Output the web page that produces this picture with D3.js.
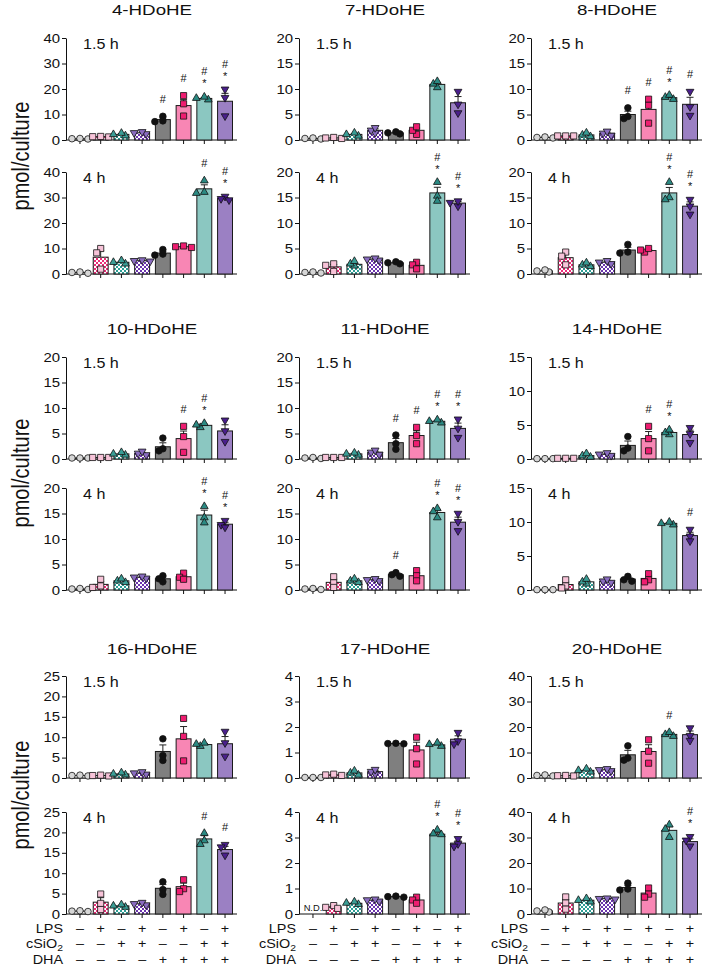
<!DOCTYPE html>
<html><head><meta charset="utf-8">
<script src="https://cdn.jsdelivr.net/npm/d3@7"></script>
<style>
body{margin:0;background:#fff}
svg{display:block}
text{font-family:"Liberation Sans",Arial,Helvetica,sans-serif;fill:#111;font-weight:400}
</style>
</head><body>
<svg id="c" width="705" height="968"></svg>
<script>
// ---------------- DATA ----------------
const compounds = ["4-HDoHE","7-HDoHE","8-HDoHE","10-HDoHE","11-HDoHE","14-HDoHE","16-HDoHE","17-HDoHE","20-HDoHE"];
const yMax  = [40,20,20,20,20,15,25,4,40];
const yStep = [10,5,5,5,5,5,5,1,10];
const timeLabels = ["1.5 h","4 h"];
const groups = ["Control","LPS","cSiO2","LPS+cSiO2","DHA","DHA+LPS","DHA+cSiO2","DHA+LPS+cSiO2"];
const rowLPS  = ["–","+","–","+","–","+","–","+"];
const rowSiO2 = ["–","–","+","+","–","–","+","+"];
const rowDHA  = ["–","–","–","–","+","+","+","+"];

// 4-HDoHE
const mean_4_15 = [0.5,1.3,2.2,2.8,8.0,13.5,16.3,15.2];
const pts_4_15  = [[0.4,0.5,0.6],[1.2,1.3,1.4],[1.7,2.2,2.7],[2.4,2.8,3.2],[9.3,7.5,7.2],[17.4,14.2,9.4],[15.8,16.4,16.9],[19.9,16.6,9.4]];
const ann_4_15  = ["","","","","#","#","#*","#*"];
const mean_4_4  = [0.6,6.6,4.6,5.2,8.2,10.7,33.4,29.6];
const pts_4_4   = [[0.3,0.6,0.8],[10.0,8.3,1.9],[4.0,4.6,5.3],[5.0,5.2,5.5],[9.6,7.8,7.4],[10.4,10.7,11.0],[36.6,31.7,32.1],[30.4,29.0,29.5]];
const ann_4_4   = ["","","","","","","#","#*"];
// 7-HDoHE
const mean_7_15 = [0.3,0.4,1.1,1.9,1.4,1.9,10.9,7.3];
const pts_7_15  = [[0.2,0.3,0.4],[0.3,0.4,0.5],[0.8,1.1,1.4],[1.4,1.9,2.4],[1.2,1.4,1.6],[1.1,1.9,2.6],[10.3,11.0,11.5],[9.5,7.0,5.3]];
const ann_7_15  = ["","","","","","","",""];
const mean_7_4  = [0.3,1.4,1.9,2.9,2.2,1.7,15.9,13.9];
const pts_7_4   = [[0.2,0.3,0.4],[2.0,1.7,0.5],[1.6,2.0,2.5],[2.7,2.9,3.1],[2.0,2.2,2.4],[2.3,1.8,1.0],[18.0,15.3,14.3],[13.3,14.0,14.3]];
const ann_7_4   = ["","","","","","","#*","#*"];
// 8-HDoHE
const mean_8_15 = [0.5,0.8,1.0,1.3,5.0,6.0,8.3,7.0];
const pts_8_15  = [[0.4,0.5,0.6],[0.8,0.8,0.8],[0.7,1.0,1.4],[0.9,1.3,1.7],[6.3,4.6,4.2],[8.0,6.8,3.3],[8.0,8.4,8.8],[9.5,6.5,4.8]];
const ann_8_15  = ["","","","","#","#","#*","#"];
const mean_8_4  = [0.6,3.2,1.8,2.3,4.7,4.6,15.9,13.3];
const pts_8_4   = [[0.4,0.6,0.8],[4.3,3.5,1.8],[1.5,1.8,2.2],[2.0,2.3,2.6],[5.8,4.3,4.1],[4.3,4.7,5.0],[18.0,15.0,14.6],[14.6,13.3,11.7]];
const ann_8_4   = ["","","","","","","#*","#*"];
// 10-HDoHE
const mean_10_15 = [0.2,0.3,1.0,1.1,2.4,4.0,6.6,5.5];
const pts_10_15  = [[0.2,0.2,0.2],[0.3,0.3,0.3],[0.8,1.0,1.3],[0.8,1.1,1.5],[4.1,2.0,1.6],[6.4,4.4,1.3],[6.2,6.7,7.0],[7.6,5.5,3.4]];
const ann_10_15  = ["","","","","","#","#*",""];
const mean_10_4  = [0.2,1.1,1.8,2.5,2.2,2.6,14.7,12.9];
const pts_10_4   = [[0.1,0.2,0.3],[2.1,0.8,0.5],[1.5,1.8,2.2],[2.3,2.5,2.7],[2.8,2.2,1.6],[3.3,2.5,2.1],[16.4,14.2,13.2],[13.6,12.8,12.3]];
const ann_10_4   = ["","","","","","","#*","#*"];
// 11-HDoHE
const mean_11_15 = [0.2,0.3,1.0,1.3,3.2,4.6,7.4,6.0];
const pts_11_15  = [[0.1,0.2,0.3],[0.3,0.3,0.3],[0.8,1.0,1.2],[0.9,1.3,1.7],[4.7,3.0,1.9],[6.2,4.6,3.0],[7.1,7.4,7.7],[7.8,6.0,4.2]];
const ann_11_15  = ["","","","","#","#","#*","#*"];
const mean_11_4  = [0.2,1.5,1.8,2.0,3.0,2.8,15.2,13.3];
const pts_11_4   = [[0.1,0.2,0.3],[2.6,1.4,0.5],[1.5,1.8,2.2],[1.8,2.0,2.2],[3.4,3.0,2.7],[3.8,2.8,1.8],[16.0,15.4,14.2],[15.0,13.4,11.6]];
const ann_11_4   = ["","","","","#","","#*","#*"];
// 14-HDoHE
const mean_14_15 = [0.05,0.1,0.5,0.7,2.0,3.0,3.9,3.6];
const pts_14_15  = [[0.05,0.05,0.05],[0.1,0.1,0.1],[0.3,0.5,0.8],[0.5,0.7,0.9],[3.3,1.6,1.2],[4.8,3.0,1.2],[3.6,3.9,4.3],[4.6,3.7,2.4]];
const ann_14_15  = ["","","","","","#","#*",""];
const mean_14_4  = [0.05,0.8,1.2,1.3,1.6,1.7,9.8,8.0];
const pts_14_4   = [[0.05,0.05,0.05],[1.5,0.6,0.3],[0.9,1.2,1.6],[1.1,1.3,1.6],[2.0,1.5,1.3],[2.4,1.5,1.2],[9.6,9.8,10.0],[8.9,7.9,7.2]];
const ann_14_4   = ["","","","","","","","#"];
// 16-HDoHE
const mean_16_15 = [0.6,0.6,1.0,1.2,6.5,9.6,8.2,8.4];
const pts_16_15  = [[0.5,0.6,0.7],[0.5,0.6,0.7],[0.8,1.0,1.3],[0.9,1.2,1.5],[9.6,5.5,4.3],[14.6,10.2,4.2],[7.8,8.3,8.6],[11.4,8.6,5.3]];
const ann_16_15  = ["","","","","","","",""];
const mean_16_4  = [0.7,2.9,2.0,2.5,6.3,6.7,18.4,15.8];
const pts_16_4   = [[0.6,0.7,0.8],[4.9,2.6,1.1],[1.7,2.0,2.3],[2.2,2.5,2.8],[7.9,6.0,4.8],[8.4,6.2,5.5],[19.8,18.0,17.1],[17.0,16.4,14.4]];
const ann_16_4   = ["","","","","","","#","#"];
// 17-HDoHE
const mean_17_15 = [0.02,0.12,0.2,0.25,1.35,1.1,1.3,1.52];
const pts_17_15  = [[0.02,0.02,0.02],[0.1,0.12,0.15],[0.12,0.2,0.28],[0.15,0.25,0.33],[1.34,1.35,1.36],[1.6,1.15,0.55],[1.25,1.32,1.38],[1.78,1.45,1.33]];
const ann_17_15  = ["","","","","","","",""];
const mean_17_4  = [null,0.28,0.42,0.54,0.68,0.55,3.13,2.78];
const pts_17_4   = [[],[0.33,0.26,0.22],[0.38,0.43,0.48],[0.5,0.55,0.58],[0.66,0.68,0.7],[0.66,0.55,0.42],[3.3,3.15,3.12],[2.95,2.75,2.65]];
const ann_17_4   = ["","","","","","","#*","#*"];
// 20-HDoHE
const mean_20_15 = [1.0,0.9,3.0,3.2,9.1,10.4,17.1,17.0];
const pts_20_15  = [[0.8,1.0,1.2],[0.8,0.9,1.0],[2.4,3.0,3.6],[2.8,3.2,3.6],[12.6,7.8,7.0],[15.0,10.5,5.8],[16.4,17.1,17.9],[19.6,16.6,14.7]];
const ann_20_15  = ["","","","","","","#",""];
const mean_20_4  = [1.2,4.3,5.4,6.0,10.4,8.2,32.8,28.4];
const pts_20_4   = [[0.8,1.2,1.6],[6.7,4.3,1.9],[4.8,5.4,6.1],[5.8,6.0,6.2],[12.1,9.8,9.4],[10.2,7.8,6.6],[35.0,33.3,30.1],[30.3,28.9,26.6]];
const ann_20_4   = ["","","","","","","","#*"];

const panelData = [
  [[mean_4_15,pts_4_15,ann_4_15],[mean_4_4,pts_4_4,ann_4_4]],
  [[mean_7_15,pts_7_15,ann_7_15],[mean_7_4,pts_7_4,ann_7_4]],
  [[mean_8_15,pts_8_15,ann_8_15],[mean_8_4,pts_8_4,ann_8_4]],
  [[mean_10_15,pts_10_15,ann_10_15],[mean_10_4,pts_10_4,ann_10_4]],
  [[mean_11_15,pts_11_15,ann_11_15],[mean_11_4,pts_11_4,ann_11_4]],
  [[mean_14_15,pts_14_15,ann_14_15],[mean_14_4,pts_14_4,ann_14_4]],
  [[mean_16_15,pts_16_15,ann_16_15],[mean_16_4,pts_16_4,ann_16_4]],
  [[mean_17_15,pts_17_15,ann_17_15],[mean_17_4,pts_17_4,ann_17_4]],
  [[mean_20_15,pts_20_15,ann_20_15],[mean_20_4,pts_20_4,ann_20_4]]
];

// ---------------- STYLE / LAYOUT ----------------
const colX = [66, 299, 531];
const zero15 = [140, 459, 778];
const zero4  = [274, 590, 914];
const H = 102;
const titleY = [15, 334, 654];
const SX = 1.15;

const fills = ['#ffffff','url(#chkPink)','url(#chkTeal)','url(#chkPurple)','#7f7f7f','#f886b4','#8bc7c1','#9b80c3'];
const mFill = ['#d6d6d6','#f7c3d8','#3a9d95','#8a6cc0','#111111','#ee1d70','#2b8a83','#4a1f8c'];
const mShape = ['circle','square','tri','triDown','circle','square','tri','triDown'];

const svg = d3.select('#c');
const defs = svg.append('defs');
function checker(id, col){
  const p = defs.append('pattern').attr('id',id).attr('width',4).attr('height',4).attr('patternUnits','userSpaceOnUse');
  p.append('rect').attr('width',4).attr('height',4).attr('fill','#fff');
  p.append('rect').attr('width',2).attr('height',2).attr('fill',col);
  p.append('rect').attr('x',2).attr('y',2).attr('width',2).attr('height',2).attr('fill',col);
}
checker('chkPink','#ec2c78');
checker('chkTeal','#2e9e95');
checker('chkPurple','#6b35ad');

function sText(parent, x, y, str, size, anchor, sx){
  return parent.append('text')
    .attr('transform',`translate(${x},${y}) scale(${sx||SX},1)`)
    .attr('font-size',size).attr('text-anchor',anchor||'start').text(str);
}

const xBand = d3.scaleBand().domain(d3.range(8)).range([6.5,166.5]).paddingInner(0.28).paddingOuter(0);
const bw = xBand.bandwidth();

function marker(g, shape, cx, cy, fill){
  let sym;
  if(shape==='circle') sym = d3.symbol(d3.symbolCircle, 34);
  else if(shape==='square') sym = d3.symbol(d3.symbolSquare, 38);
  else sym = d3.symbol(d3.symbolTriangle, 26);
  const rot = shape==='triDown' ? ' rotate(180)' : '';
  g.append('path').attr('d', sym()).attr('transform',`translate(${cx},${cy})${rot}`)
    .attr('fill',fill).attr('stroke','#111').attr('stroke-width',0.8);
}

function swarm(ys){
  const idx = ys.map((v,i)=>i).sort((a,b)=>ys[a]-ys[b]);
  const placed = []; const offs = new Array(ys.length).fill(0);
  const cand = [0,-4,4,-8,8];
  idx.forEach(i=>{
    for(const o of cand){
      const ok = placed.every(p => (p.x-o)*(p.x-o)+(p.y-ys[i])*(p.y-ys[i]) >= 20);
      if(ok){ offs[i]=o; placed.push({x:o,y:ys[i]}); break; }
    }
  });
  return offs;
}

function drawPanel(x0, zeroY, means, pts, ann, ymax, step, tlabel){
  const g = svg.append('g').attr('transform',`translate(${x0},${zeroY-H})`);
  const y = d3.scaleLinear().domain([0,ymax]).range([H,0]);

  // x axis
  g.append('line').attr('x1',0).attr('x2',171).attr('y1',H).attr('y2',H).attr('stroke','#111').attr('stroke-width',1);
  const xa = g.append('g').attr('transform',`translate(0,${H})`).call(d3.axisBottom(xBand).tickSize(4).tickFormat(''));
  xa.select('.domain').remove();
  xa.selectAll('line').attr('stroke','#111');

  // bars
  means.forEach((m,i)=>{
    const cx = xBand(i)+bw/2;
    if(m===null){
      sText(g, cx, H-3, 'N.D.', 8.5, 'middle', 1.1);
      return;
    }
    g.append('rect').attr('x',xBand(i)).attr('y',y(m)).attr('width',bw).attr('height',H-y(m))
      .attr('fill',fills[i]).attr('stroke','#1a1a1a').attr('stroke-width',1);
  });
  // error bars
  means.forEach((m,i)=>{
    if(m===null) return;
    const p = pts[i];
    const sem = d3.deviation(p)/Math.sqrt(p.length);
    const cx = xBand(i)+bw/2;
    const yt = y(m+sem);
    g.append('line').attr('x1',cx).attr('x2',cx).attr('y1',y(m)).attr('y2',yt).attr('stroke','#222').attr('stroke-width',1);
    g.append('line').attr('x1',cx-3.5).attr('x2',cx+3.5).attr('y1',yt).attr('y2',yt).attr('stroke','#222').attr('stroke-width',1);
  });
  // points
  means.forEach((m,i)=>{
    if(m===null) return;
    const cx = xBand(i)+bw/2;
    const ys = pts[i].map(v=>y(v));
    const offs = swarm(ys);
    ys.forEach((yy,k)=> marker(g, mShape[i], cx+offs[k], yy, mFill[i]));
  });
  // annotations
  means.forEach((m,i)=>{
    if(m===null || !ann[i]) return;
    const cx = xBand(i)+bw/2;
    const p = pts[i];
    const sem = d3.deviation(p)/Math.sqrt(p.length);
    const anchor = Math.min(y(m+sem), y(d3.max(p))) - 4;
    const hasStar = ann[i].includes('*');
    if(hasStar) sText(g, cx, anchor-11+5.5, '*', 10, 'middle', 1.1);
    sText(g, cx, (hasStar ? anchor-21 : anchor-13)+3.5, '#', 10, 'middle', 1.1);
  });

  // y axis
  const ya = g.append('g').call(d3.axisLeft(y).tickValues(d3.range(0, ymax+step/2, step)).tickFormat(d3.format('d')).tickSize(4).tickSizeOuter(0).tickPadding(2));
  ya.select('.domain').attr('stroke','#111');
  ya.selectAll('line').attr('stroke','#111');
  ya.selectAll('text').attr('font-size',13).attr('transform',`scale(${SX},1)`).attr('x',-6/SX);

  sText(g, 17, 11, tlabel, 14, 'start');
}

compounds.forEach((name, ci)=>{
  const col = ci%3, row = Math.floor(ci/3);
  const x0 = colX[col];
  sText(svg, x0+86, titleY[row], name, 15, 'middle', 1.25);
  const [d15, d4] = panelData[ci];
  drawPanel(x0, zero15[row], d15[0], d15[1], d15[2], yMax[ci], yStep[ci], timeLabels[0]);
  drawPanel(x0, zero4[row],  d4[0],  d4[1],  d4[2],  yMax[ci], yStep[ci], timeLabels[1]);
});

// y-axis titles
const ylabY = [156, 473, 795];
ylabY.forEach(cy=>{
  svg.append('text').attr('transform',`translate(29,${cy}) rotate(-90) scale(1,1.15)`)
    .attr('font-size',20).attr('text-anchor','middle').text('pmol/culture');
});

// treatment table
const tableY = [933, 948, 964];
colX.forEach(x0=>{
  sText(svg, x0-3, tableY[0], 'LPS', 12.5, 'end');
  const t = svg.append('text').attr('transform',`translate(${x0-3},${tableY[1]}) scale(${SX},1)`)
    .attr('font-size',12.5).attr('text-anchor','end');
  t.append('tspan').text('cSiO');
  t.append('tspan').attr('font-size',9).attr('dy',3).text('2');
  sText(svg, x0-3, tableY[2], 'DHA', 12.5, 'end');
  [rowLPS,rowSiO2,rowDHA].forEach((r,ri)=>{
    r.forEach((s,i)=> sText(svg, x0+xBand(i)+bw/2, tableY[ri], s, 12.5, 'middle'));
  });
});
</script>
</body></html>
